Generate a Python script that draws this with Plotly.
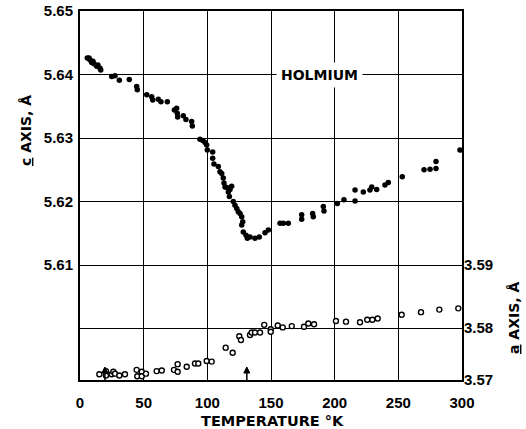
import plotly.graph_objects as go

# c-axis (filled dots): temperature K, lattice parameter Å
c_temp = [5.7, 7.1, 7.9, 9.2, 10.2, 11.0, 13.1, 14.1, 15.7, 16.3,
          24.9, 27.5, 30.9, 38.7, 44.5, 45.0, 52.4, 56.3, 57.1, 61.5,
          63.6, 68.6, 74.1, 75.9, 76.4, 76.7, 81.1, 83.2, 87.7, 88.2,
          94.2, 96.4, 98.2, 99.5, 100.0, 104.2, 104.2, 105.2, 108.6, 109.9,
          111.3, 112.5, 113.1, 113.9, 115.2, 116.5, 117.8, 119.1, 117.3, 120.4,
          121.7, 123.1, 124.3, 125.7, 127.0, 127.8, 127.0, 128.2, 130.4, 131.4,
          133.5, 137.4, 140.8, 145.3, 147.9, 157.1, 159.7, 163.6, 174.1, 174.1,
          182.7, 183.2, 191.1, 191.6, 202.1, 207.3, 216.0, 216.0, 222.5, 227.7,
          229.1, 233.0, 239.5, 242.1, 253.1, 270.2, 274.9, 279.6, 279.6, 298.4]
c_value = [5.6426, 5.6426, 5.6423, 5.6419, 5.6421, 5.6417, 5.6413, 5.6415, 5.6410, 5.6407,
           5.6397, 5.6398, 5.6391, 5.6392, 5.6381, 5.6376, 5.6368, 5.6365, 5.6360, 5.6361,
           5.6357, 5.6357, 5.6344, 5.6347, 5.6339, 5.6333, 5.6335, 5.6329, 5.6326, 5.6319,
           5.6298, 5.6296, 5.6293, 5.6289, 5.6281, 5.6278, 5.6268, 5.6259, 5.6255, 5.6247,
           5.6244, 5.6237, 5.6229, 5.6223, 5.6222, 5.6215, 5.6219, 5.6224, 5.6208, 5.6200,
           5.6194, 5.6189, 5.6184, 5.6181, 5.6176, 5.6168, 5.6163, 5.6152, 5.6147, 5.6142,
           5.6144, 5.6142, 5.6144, 5.6151, 5.6155, 5.6166, 5.6166, 5.6166, 5.6179, 5.6172,
           5.6181, 5.6176, 5.6192, 5.6185, 5.6197, 5.6203, 5.6201, 5.6218, 5.6215, 5.6218,
           5.6223, 5.6219, 5.6226, 5.6230, 5.6239, 5.6250, 5.6251, 5.6263, 5.6252, 5.6281]

# a-axis (open circles)
a_temp = [15.2, 20.4, 20.4, 24.9, 26.2, 27.5, 30.9, 35.3, 44.5, 45.0,
          48.5, 48.5, 51.8, 60.2, 64.2, 73.8, 76.7, 76.7, 83.8, 90.3,
          92.9, 99.5, 103.4, 114.4, 119.9, 125.1, 126.4, 133.5, 134.8, 137.4,
          141.4, 144.7, 149.8, 149.8, 155.3, 159.2, 166.3, 175.9, 179.3, 183.8,
          201.0, 208.9, 219.9, 225.6, 229.6, 233.8, 252.6, 267.8, 282.2, 297.1]
a_value = [3.5727, 3.5732, 3.5725, 3.5727, 3.5731, 3.5728, 3.5725, 3.5727, 3.5734, 3.5724,
           3.5731, 3.5724, 3.5728, 3.5732, 3.5733, 3.5734, 3.5743, 3.5731, 3.5739, 3.5744,
           3.5744, 3.5748, 3.5747, 3.5769, 3.5761, 3.5787, 3.5781, 3.5789, 3.5793, 3.5793,
           3.5793, 3.5805, 3.5798, 3.5794, 3.5804, 3.5801, 3.5803, 3.5802, 3.5807, 3.5806,
           3.5811, 3.5810, 3.5809, 3.5813, 3.5813, 3.5815, 3.5821, 3.5825, 3.5829, 3.5831]

x_ticks = [0, 50, 100, 150, 200, 250, 300]
c_ticks = [5.60, 5.61, 5.62, 5.63, 5.64, 5.65]
c_labels = ["", "5.61", "5.62", "5.63", "5.64", "5.65"]
a_ticks = [3.5718, 3.58, 3.59]
a_labels = ["3.57", "3.58", "3.59"]
arrow_temps = [19.6, 131.0]

TICKFONT = dict(family="Liberation Sans", size=15, color="black", weight="bold")
TITLEFONT = dict(family="DejaVu Sans", size=14, color="black", weight="bold")

# plot area in page pixels: x 80..462, y 11..380
W, H = 526, 429
PL, PR, PT, PB = 80, 462, 11, 380
def px_x(x):
    return (x - PL) / (PR - PL)
def px_y(y):
    return (PB - y) / (PB - PT)

fig = go.Figure()
fig.add_trace(go.Scatter(x=c_temp, y=c_value, mode="markers",
                         marker=dict(size=5.5, color="black"), yaxis="y", showlegend=False))
fig.add_trace(go.Scatter(x=a_temp, y=a_value, mode="markers",
                         marker=dict(size=5, color="white", line=dict(color="black", width=1.4)),
                         yaxis="y2", showlegend=False))

annotations = [
    dict(x=187.7, y=5.64, xref="x", yref="y", text="HOLMIUM", showarrow=False,
         bgcolor="white", borderpad=4, font=TITLEFONT),
    dict(x=px_x(26), y=px_y(130), xref="paper", yref="paper", text="<u>c</u> AXIS, Å",
         textangle=-90, showarrow=False, font=TITLEFONT),
    dict(x=px_x(514), y=px_y(318), xref="paper", yref="paper", text="<u>a</u> AXIS, Å",
         textangle=-90, showarrow=False, font=TITLEFONT),
    dict(x=px_x(272), y=px_y(421), xref="paper", yref="paper", text="TEMPERATURE °K",
         showarrow=False, font=dict(family="DejaVu Sans", size=14.5, color="black", weight="bold")),
]
for ann in annotations:
    ann["xanchor"] = "center"
    ann["yanchor"] = "middle"

shapes = []
for t in arrow_temps:
    shapes.append(dict(type="line", xref="x", yref="y domain", x0=t, x1=t, y0=0, y1=0.022,
                       line=dict(color="black", width=1.5), layer="above"))
    shapes.append(dict(type="path", xref="x", yref="y domain", xsizemode="pixel",
                       ysizemode="pixel", xanchor=t, yanchor=0,
                       path="M -3,7 L 3,7 L 0,13 Z", fillcolor="black",
                       line=dict(color="black", width=1), layer="above"))

fig.update_layout(
    width=W, height=H,
    margin=dict(l=PL, r=W - PR, t=PT, b=H - PB, autoexpand=False),
    plot_bgcolor="white", paper_bgcolor="white",
    xaxis=dict(range=[0, 300], tickvals=x_ticks, showgrid=True, gridcolor="black",
               gridwidth=1.2, zeroline=False, showline=True, linecolor="black",
               linewidth=2, mirror=True, ticks="", automargin=False,
               tickfont=TICKFONT, ticklabelstandoff=8, ticklabeloverflow="allow"),
    yaxis=dict(range=[5.5919, 5.65], tickvals=c_ticks, ticktext=c_labels,
               showgrid=True, gridcolor="black", gridwidth=1.2, zeroline=False,
               showline=True, linecolor="black", linewidth=2, mirror=True, ticks="",
               automargin=False, tickfont=TICKFONT, ticklabelstandoff=2,
               ticklabeloverflow="allow"),
    yaxis2=dict(range=[3.5718, 3.63], tickvals=a_ticks, ticktext=a_labels,
                overlaying="y", side="right", showgrid=False, zeroline=False,
                showline=False, ticks="", automargin=False, tickfont=TICKFONT,
                ticklabelstandoff=1, ticklabeloverflow="allow"),
    annotations=annotations,
    shapes=shapes,
)

fig.write_html("out.html", config={"displayModeBar": False},
               post_script="document.body.style.margin='0';")
